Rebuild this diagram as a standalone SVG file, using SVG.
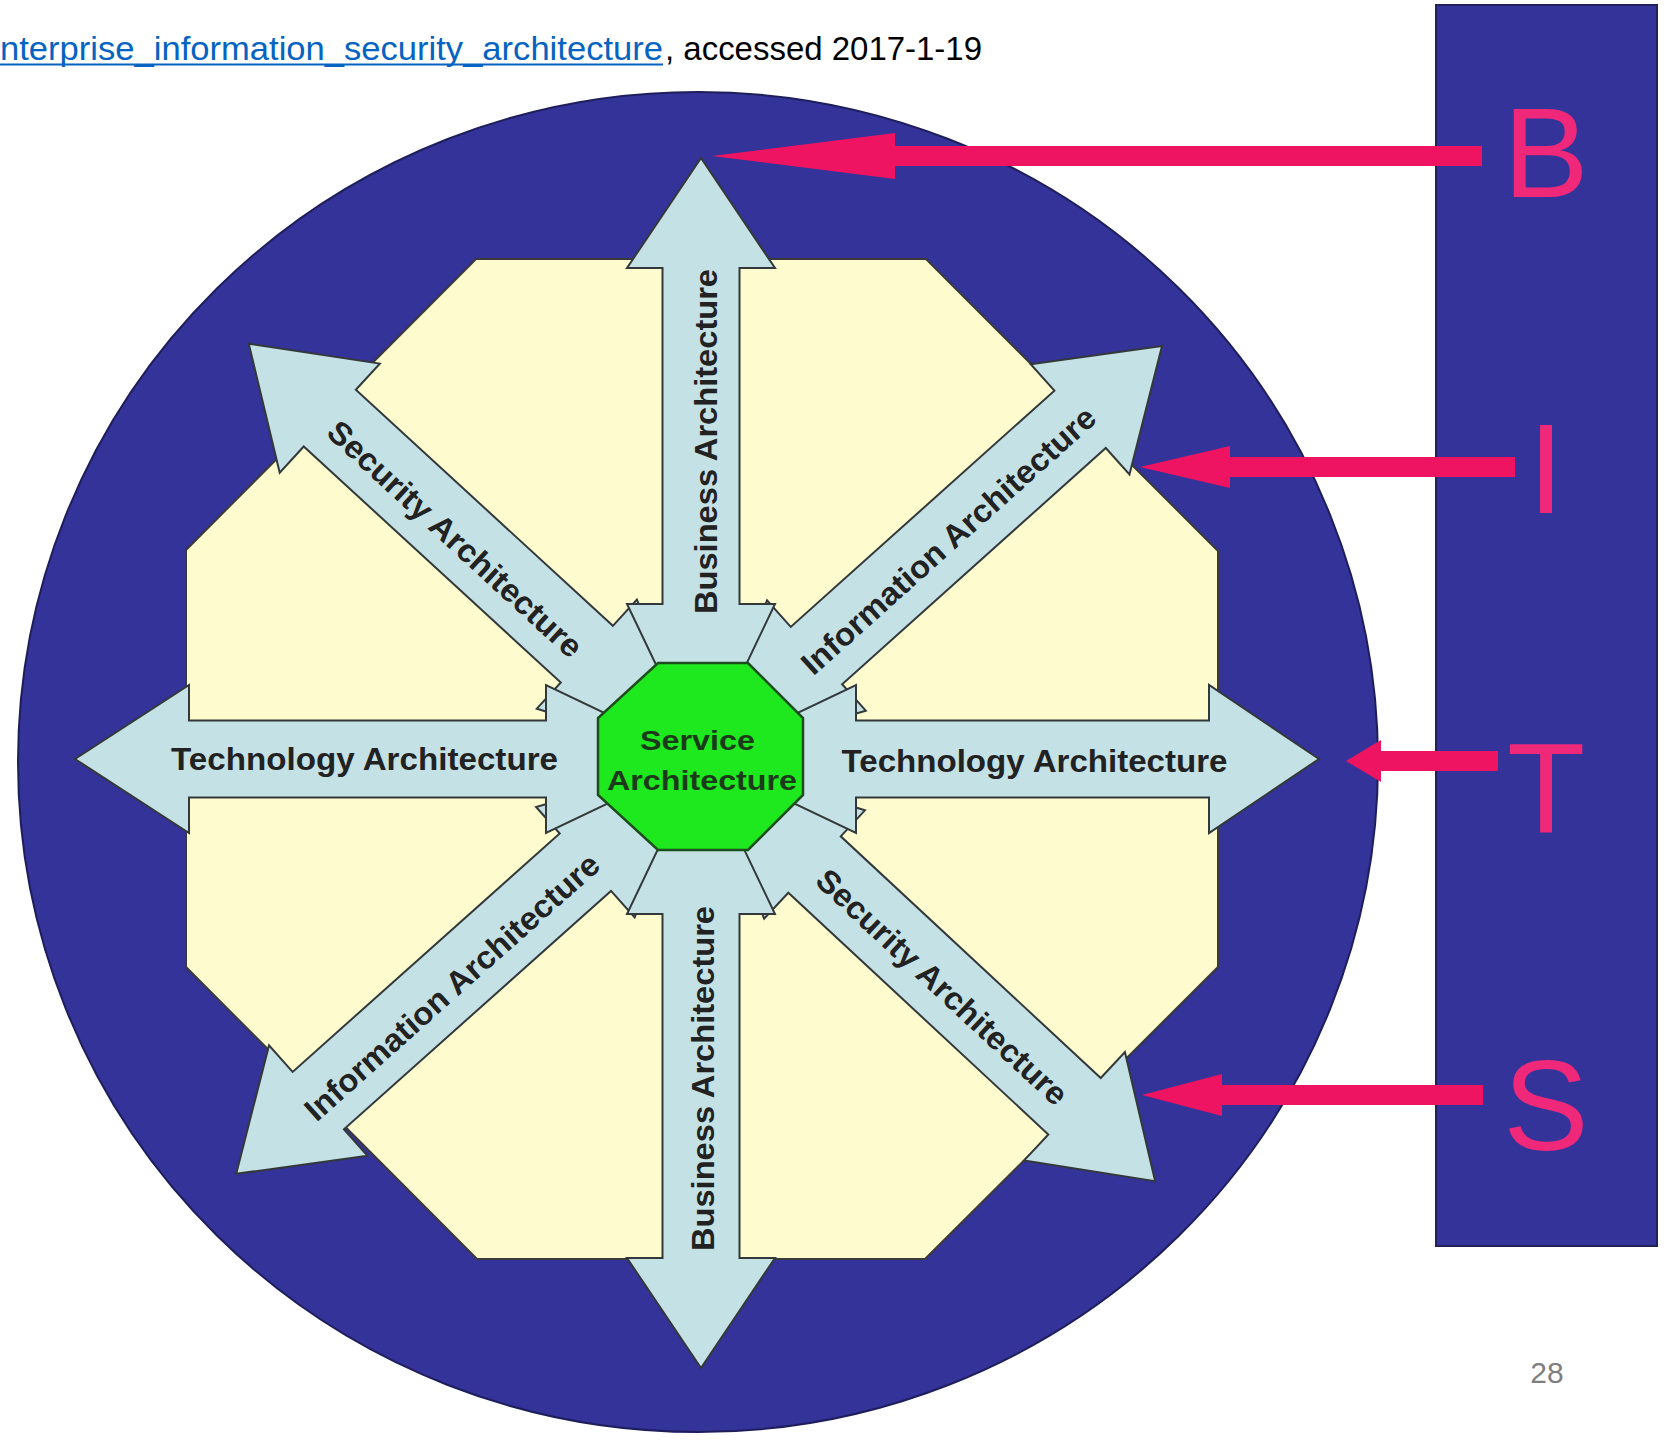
<svg xmlns="http://www.w3.org/2000/svg" width="1678" height="1440" viewBox="0 0 1678 1440">
  <style>
    .navy { fill: #333399; }
    .panel { fill: #fefbcf; stroke: #3a3a3a; stroke-width: 2; stroke-linejoin: miter; }
    .arm { fill: #c4e1e5; stroke: #33393a; stroke-width: 2; stroke-linejoin: miter; }
    .arm-label { font-family: "Liberation Sans", Arial, sans-serif; font-weight: bold; font-size: 32px; fill: #222222; text-anchor: middle; }
    .core { fill: #1ee81e; stroke: #1d4d1d; stroke-width: 2.5; }
    .core-label { font-family: "Liberation Sans", Arial, sans-serif; font-weight: bold; font-size: 28px; fill: #1a3a1a; text-anchor: middle; }
    .bits-letter { font-family: "Liberation Sans", Arial, sans-serif; font-size: 128px; fill: #f0287a; text-anchor: middle; }
    .pink { fill: #ee1462; }
    .caption { font-family: "Liberation Sans", Arial, sans-serif; font-size: 34px; }
  </style>

  <rect width="1678" height="1440" fill="#ffffff"/>

  <!-- source reference line -->
  <g id="header">
    <text class="caption" x="0" y="60" fill="#0563c1" textLength="663" lengthAdjust="spacingAndGlyphs">nterprise_information_security_architecture</text>
    <line x1="0" y1="64.5" x2="663" y2="64.5" stroke="#0563c1" stroke-width="2"/>
    <text class="caption" x="665" y="60" fill="#000000" textLength="317" lengthAdjust="spacingAndGlyphs">, accessed 2017-1-19</text>
  </g>

  <!-- architecture wheel -->
  <g id="wheel">
    <ellipse id="wheel-disc" class="navy" cx="698" cy="762" rx="680" ry="670" stroke="#1e1e5c" stroke-width="2"/>
    <polygon id="wheel-panels" class="panel" points="476,259 926,259 1218,551 1218,967 925,1259 477,1259 186,967 186,550"/>
  </g>

  <!-- radiating double-headed arms (diagonals underneath, cardinals on top) -->
  <g id="arm-security-ul">
    <polygon class="arm" transform="translate(701,759) rotate(-137.44)" points="614,0 504,-74 504,-38.5 155,-38.5 155,-74 0,0 155,74 155,38.5 504,38.5 504,74"/>
    <text class="arm-label" transform="translate(455,539) rotate(42.56)" x="0" y="11" textLength="333" lengthAdjust="spacingAndGlyphs">Security Architecture</text>
  </g>
  <g id="arm-information-ur">
    <polygon class="arm" transform="translate(701,759) rotate(-41.86)" points="619,0 509,-74 509,-38.5 155,-38.5 155,-74 0,0 155,74 155,38.5 509,38.5 509,74"/>
    <text class="arm-label" transform="translate(948.5,540.5) rotate(-41.86)" x="0" y="11" textLength="383" lengthAdjust="spacingAndGlyphs">Information Architecture</text>
  </g>
  <g id="arm-information-ll">
    <polygon class="arm" transform="translate(701,759) rotate(138.25)" points="623,0 513,-74 513,-38.5 155,-38.5 155,-74 0,0 155,74 155,38.5 513,38.5 513,74"/>
    <text class="arm-label" transform="translate(452,987) rotate(-41.75)" x="0" y="11" textLength="383" lengthAdjust="spacingAndGlyphs">Information Architecture</text>
  </g>
  <g id="arm-security-lr">
    <polygon class="arm" transform="translate(701,759) rotate(42.91)" points="620,0 510,-74 510,-38.5 155,-38.5 155,-74 0,0 155,74 155,38.5 510,38.5 510,74"/>
    <text class="arm-label" transform="translate(942,987) rotate(42.91)" x="0" y="11" textLength="330" lengthAdjust="spacingAndGlyphs">Security Architecture</text>
  </g>
  <g id="arm-business-up">
    <polygon class="arm" transform="translate(701,759) rotate(-90)" points="601,0 491,-74 491,-38.5 155,-38.5 155,-74 0,0 155,74 155,38.5 491,38.5 491,74"/>
    <text class="arm-label" transform="translate(706,441.5) rotate(-90)" x="0" y="11" textLength="345" lengthAdjust="spacingAndGlyphs">Business Architecture</text>
  </g>
  <g id="arm-business-down">
    <polygon class="arm" transform="translate(701,759) rotate(90)" points="609,0 499,-74 499,-38.5 155,-38.5 155,-74 0,0 155,74 155,38.5 499,38.5 499,74"/>
    <text class="arm-label" transform="translate(703,1078.5) rotate(-90)" x="0" y="11" textLength="345" lengthAdjust="spacingAndGlyphs">Business Architecture</text>
  </g>
  <g id="arm-technology-left">
    <polygon class="arm" transform="translate(701,759) rotate(180)" points="626,0 512,-74 512,-38.5 155,-38.5 155,-74 0,0 155,74 155,38.5 512,38.5 512,74"/>
    <text class="arm-label" x="364.5" y="770" textLength="387" lengthAdjust="spacingAndGlyphs">Technology Architecture</text>
  </g>
  <g id="arm-technology-right">
    <polygon class="arm" transform="translate(701,759)" points="618,0 508,-74 508,-38.5 155,-38.5 155,-74 0,0 155,74 155,38.5 508,38.5 508,74"/>
    <text class="arm-label" x="1034.5" y="772" textLength="386" lengthAdjust="spacingAndGlyphs">Technology Architecture</text>
  </g>

  <!-- central hub -->
  <g id="service-architecture">
    <polygon class="core" points="658,663 748,663 803,718 803,795 748,850 658,850 598,795 598,718"/>
    <text class="core-label" x="697.5" y="750" textLength="115" lengthAdjust="spacingAndGlyphs">Service</text>
    <text class="core-label" x="702" y="790" textLength="190" lengthAdjust="spacingAndGlyphs">Architecture</text>
  </g>

  <!-- B I T S column -->
  <g id="bits-column">
    <rect class="navy" x="1436" y="5" width="221" height="1241" stroke="#22225a" stroke-width="2"/>
    <text id="letter-b" class="bits-letter" x="1546" y="197">B</text>
    <text id="letter-i" class="bits-letter" x="1546" y="513">I</text>
    <text id="letter-t" class="bits-letter" x="1546" y="832">T</text>
    <text id="letter-s" class="bits-letter" x="1546" y="1150">S</text>
  </g>

  <!-- pointers from the letters into the wheel -->
  <g id="connectors">
    <polygon id="link-b" class="pink" points="712,156 895,133 895,146 1482,146 1482,166 895,166 895,179"/>
    <polygon id="link-i" class="pink" points="1140,467 1230,446 1230,457 1515,457 1515,477 1230,477 1230,488"/>
    <polygon id="link-t" class="pink" points="1346,761 1381,740 1381,751 1498,751 1498,771 1381,771 1381,782"/>
    <polygon id="link-s" class="pink" points="1142,1095 1222,1074 1222,1085 1483,1085 1483,1105 1222,1105 1222,1116"/>
  </g>

  <text id="page-number" x="1547" y="1383" font-family="'Liberation Sans', Arial, sans-serif" font-size="30" fill="#7f7f7f" text-anchor="middle">28</text>
</svg>
